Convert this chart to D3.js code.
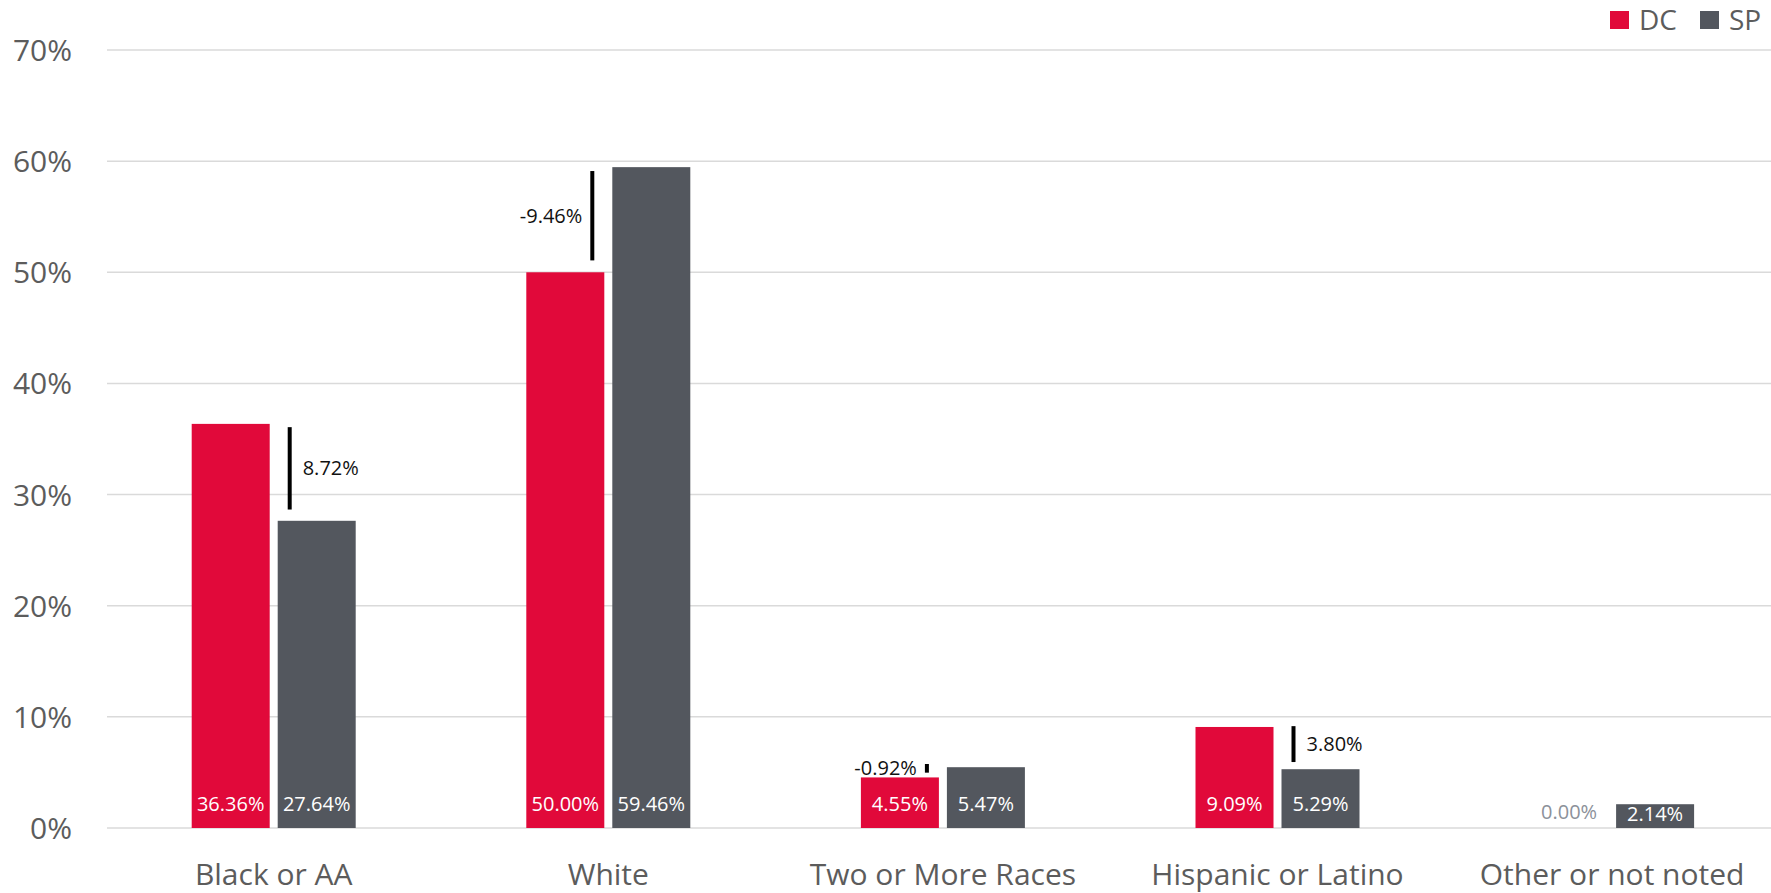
<!DOCTYPE html>
<html><head><meta charset="utf-8">
<script src="https://cdn.jsdelivr.net/npm/d3@7"></script>
<style>
html,body{margin:0;padding:0;background:#fff;}
svg{display:block;font-family:"Open Sans","Noto Sans",sans-serif;}
</style></head>
<body>
<svg id="chart" width="1771" height="893"></svg>
<script>
const categories = ["Black or AA", "White", "Two or More Races", "Hispanic or Latino", "Other or not noted"];
const seriesNames = ["DC", "SP"];
const dcValues = [36.36, 50.00, 4.55, 9.09, 0.00];
const spValues = [27.64, 59.46, 5.47, 5.29, 2.14];
const showDiff = [true, true, true, true, false];
const yTickValues = [0, 10, 20, 30, 40, 50, 60, 70];
const colors = {DC: "#E1093A", SP: "#53575E"};

const svg = d3.select("#chart");
const W = 1771, H = 893;
const x0 = d3.scaleBand().domain(categories).range([106.4, 1779.4]).padding(0);
const groupW = 164;
const x1 = d3.scaleBand().domain(seriesNames).range([0, groupW]).paddingInner(8/86).paddingOuter(0);
const y = d3.scaleLinear().domain([0, 70]).range([828, 50]);
const fmt = v => v.toFixed(2) + "%";

// gridlines
svg.append("g").selectAll("line").data(yTickValues).join("line")
  .attr("x1", 107).attr("x2", W)
  .attr("y1", d => y(d)).attr("y2", d => y(d))
  .attr("stroke", "#dadada").attr("stroke-width", 1.5);

// y axis labels
const yAxis = d3.axisLeft(y).tickValues(yTickValues).tickFormat(d => d + "%").tickSize(0).tickPadding(0);
const yg = svg.append("g").attr("transform", "translate(72,0)").call(yAxis);
yg.select(".domain").remove();
yg.selectAll("text").attr("font-size", 30).attr("fill", "#5c5c5c")
  .attr("font-family", "'Open Sans','Noto Sans',sans-serif").attr("dy", "0.35em");

// x axis labels
const xAxis = d3.axisBottom(x0).tickSize(0).tickPadding(0);
const xg = svg.append("g").attr("transform", "translate(0,0)").call(xAxis);
xg.select(".domain").remove();
xg.selectAll("text").attr("font-size", 30).attr("fill", "#5c5c5c")
  .attr("font-family", "'Open Sans','Noto Sans',sans-serif")
  .attr("y", 885).attr("dy", 0);

const rows = categories.map((c, i) => ({cat: c, i, vals: [
  {s: "DC", v: dcValues[i]}, {s: "SP", v: spValues[i]}]}));

const groups = svg.append("g").selectAll("g").data(rows).join("g")
  .attr("transform", d => `translate(${x0(d.cat) + (x0.bandwidth() - groupW) / 2},0)`);

groups.selectAll("rect").data(d => d.vals).join("rect")
  .attr("x", d => x1(d.s)).attr("width", x1.bandwidth())
  .attr("y", d => y(d.v)).attr("height", d => y(0) - y(d.v))
  .attr("fill", d => colors[d.s]);

groups.selectAll("text.val").data(d => d.vals).join("text").attr("class", "val")
  .attr("x", d => x1(d.s) + x1.bandwidth() / 2)
  .attr("y", d => d.v === 0 ? 819 : Math.min(Math.max(811, y(d.v) + 18), 821))
  .attr("text-anchor", "middle").attr("font-size", 20)
  .attr("fill", d => d.v === 0 ? "#8c919a" : "#ffffff")
  .text(d => fmt(d.v));

// difference markers
const diffG = svg.append("g").selectAll("g").data(rows.filter(r => showDiff[r.i])).join("g");
diffG.each(function(d) {
  const g = d3.select(this);
  const dc = dcValues[d.i], sp = spValues[d.i];
  const diff = dc - sp;
  const cx = x0(d.cat) + x0.bandwidth() / 2;
  const lx = diff >= 0 ? cx + 16 : cx - 16;
  const mid = (y(dc) + y(sp)) / 2 - 4;
  const half = Math.abs(y(dc) - y(sp)) * 0.85 / 2;
  g.append("line").attr("x1", lx).attr("x2", lx)
    .attr("y1", mid - half).attr("y2", mid + half)
    .attr("stroke", "#000").attr("stroke-width", 4);
  g.append("text")
    .attr("x", diff >= 0 ? lx + 13 : lx - 10)
    .attr("y", mid).attr("dy", "0.35em")
    .attr("text-anchor", diff >= 0 ? "start" : "end")
    .attr("font-size", 20).attr("fill", "#111")
    .text(fmt(diff));
});

// legend
const leg = svg.append("g");
const legItems = [{s: "DC", x: 1610}, {s: "SP", x: 1700}];
leg.selectAll("rect").data(legItems).join("rect")
  .attr("x", d => d.x).attr("y", 11).attr("width", 19).attr("height", 18)
  .attr("fill", d => colors[d.s]);
leg.selectAll("text").data(legItems).join("text")
  .attr("x", d => d.x + 29).attr("y", 29.5)
  .attr("font-size", 28).attr("fill", "#5c5c5c")
  .text(d => d.s);
</script>
</body></html>
